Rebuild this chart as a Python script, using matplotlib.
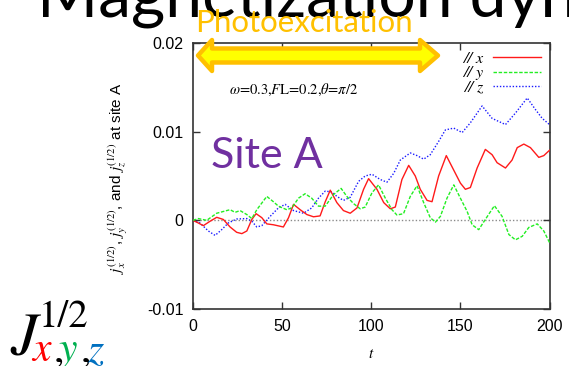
import matplotlib
matplotlib.use("Agg")
import matplotlib.pyplot as plt
from matplotlib.patches import Polygon
from matplotlib.ticker import FixedLocator, FixedFormatter

plt.rcParams["mathtext.fontset"] = "stix"

# ---- data: spin current components at site A ----
t_x = [0, 3.0, 5.8, 9.6, 13.3, 17.0, 20.8, 24.5, 27.4, 30.2, 33.0, 35.4, 38.6, 41.4, 45.1,
       50.7, 53.6, 56.4, 60.1, 63.9, 67.6, 71.3, 74.2, 77.0, 80.7, 84.4, 88.2, 92.0, 95.7,
       98.5, 103.2, 107.0, 110.7, 113.5, 117.2, 121.0, 124.7, 127.5, 131.3, 134.1, 137.8,
       142.1, 147.2, 150.0, 152.8, 155.6, 159.4, 164.0, 167.8, 170.6, 175.3, 179.0, 181.9,
       185.6, 189.3, 194.0, 196.8, 200.0]
j_x = [0, -0.0003, -0.0006, -0.0001, 0.00034, 0.0001, -0.00075, -0.00135, -0.0015, -0.0012,
       0.0001, 0.00075, 0.0003, -0.0004, -0.0005, -0.00075, 0.0003, 0.0018, 0.0012, 0.00065,
       0.0004, 0.0005, 0.0021, 0.0034, 0.002, 0.0011, 0.0008, 0.0014, 0.0035, 0.0047, 0.0035,
       0.002, 0.0013, 0.0015, 0.0046, 0.0062, 0.005, 0.0035, 0.00225, 0.0021, 0.005, 0.0073,
       0.0053, 0.0042, 0.0035, 0.0037, 0.0059, 0.008, 0.0074, 0.0065, 0.0059, 0.0068, 0.0082,
       0.0086, 0.0082, 0.0071, 0.0073, 0.0079]

t_y = [0, 3.0, 7.7, 13.3, 20.8, 23.6, 26.4, 30.2, 33.0, 35.8, 41.4, 45.1, 47.9, 52.6, 55.4,
       59.2, 62.9, 66.6, 70.4, 74.2, 78.8, 83.1, 86.3, 90.0, 93.8, 96.6, 100.4, 104.1, 107.9,
       111.6, 114.4, 118.1, 121.9, 125.7, 129.4, 133.1, 136.0, 138.8, 142.5, 146.3, 150.0,
       153.8, 156.6, 160.3, 164.0, 169.1, 173.4, 177.2, 180.9, 184.7, 188.4, 193.1, 196.8, 200.0]
j_y = [0, 0.0002, 0, 0.0008, 0.0012, 0.0009, 0.0011, 0.00065, 0.0002, 0.0012, 0.0027, 0.0021,
       0.0016, 0.0012, 0.0014, 0.0025, 0.003, 0.0025, 0.0016, 0.0016, 0.0029, 0.0036, 0.0027,
       0.0019, 0.0013, 0.0015, 0.0031, 0.004, 0.0025, 0.0012, 0.0006, 0.00075, 0.0027, 0.0039,
       0.002, 0.0003, -0.0002, 0.00045, 0.0025, 0.004, 0.0025, 0.001, -0.0005, -0.00105, 0.0001,
       0.00165, 0.00045, -0.0016, -0.0022, -0.0018, -0.0008, -0.0004, -0.0012, -0.0025]

t_z = [0, 3.9, 8.6, 12.4, 16.1, 19.8, 24.5, 30.2, 33.0, 35.8, 38.6, 43.3, 47.9, 51.7, 56.4,
       62.0, 66.6, 70.4, 74.2, 77.9, 80.7, 84.4, 88.2, 92.9, 96.6, 100.4, 105.1, 108.8, 112.6,
       116.3, 121.9, 125.7, 129.4, 133.1, 137.8, 141.6, 146.3, 151.0, 155.6, 162.2, 167.8,
       175.3, 180.9, 187.5, 192.1, 195.9, 200.0]
j_z = [0, -0.0003, -0.0012, -0.0017, -0.00105, -0.0003, 0.00015, 0.0002, -0.0001, -0.00075,
       -0.0006, 0.00045, 0.0014, 0.0018, 0.0011, 0.0008, 0.0014, 0.0025, 0.0033, 0.0032, 0.0027,
       0.00225, 0.0026, 0.0044, 0.005, 0.0052, 0.0046, 0.0043, 0.0053, 0.0068, 0.0076, 0.0073,
       0.0069, 0.0074, 0.0089, 0.0102, 0.0104, 0.0099, 0.011, 0.0129, 0.0115, 0.0108, 0.0121,
       0.0138, 0.0125, 0.0115, 0.0108]

x_ticks = [0, 50, 100, 150, 200]
y_ticks = [-0.01, 0, 0.01, 0.02]
y_tick_labels = ["-0.01", "0", "0.01", "0.02"]
legend_labels = ["// x", "// y", "// z"]

W, H = 569, 366
fig = plt.figure(figsize=(W / 100, H / 100), dpi=100)


def px(x, y):
    """Pixel position (origin top-left) to figure fraction."""
    return x / W, 1 - y / H


ax = fig.add_axes([193 / W, 57 / H, 356.5 / W, 266 / H])
ax.set_xlim(0, 200)
ax.set_ylim(-0.01, 0.02)

ax.axhline(0, color="#8a8a8a", lw=1.0, ls=(0, (1, 1.5)), zorder=1)
lx, = ax.plot(t_x, j_x, color="#ff1a1a", lw=1.0, zorder=3)
ly, = ax.plot(t_y, j_y, color="#22ee22", lw=1.0, ls=(0, (2.5, 1.2)), zorder=3)
lz, = ax.plot(t_z, j_z, color="#1a1aff", lw=1.0, ls=(0, (1, 1.3)), zorder=2)

ax.xaxis.set_major_locator(FixedLocator(x_ticks))
ax.yaxis.set_major_locator(FixedLocator(y_ticks))
ax.yaxis.set_major_formatter(FixedFormatter(y_tick_labels))
ax.tick_params(direction="in", top=True, right=True, length=5, width=1,
               color="#333333", labelsize=11.5, pad=7)
for lab in ax.get_xticklabels() + ax.get_yticklabels():
    lab.set_fontfamily("Liberation Sans")
for s in ax.spines.values():
    s.set_color("#333333")
    s.set_linewidth(1.2)

leg = ax.legend([lx, ly, lz], legend_labels, loc="upper right", frameon=False,
                markerfirst=False, handlelength=3.0, handletextpad=0.6,
                labelspacing=0.0, borderaxespad=0.15,
                prop={"family": "STIXGeneral", "style": "italic", "size": 11.5})

ax.set_xlabel("$t$", fontsize=11)
ax.xaxis.set_label_coords(0.5, -0.14)
fig.text(*px(118, 178), r"$j_x^{(1/2)}$, $j_y^{(1/2)}$, and $j_z^{(1/2)}$ at site A",
         rotation=90, ha="center", va="center", fontsize=11, family="Liberation Sans")

fig.text(*px(229, 94), r"$\omega$=0.3,$F$L=0.2,$\theta$=$\pi$/2",
         family="STIXGeneral", fontsize=10.5, ha="left", va="baseline")

# slide-style overlays
fig.text(*px(37, 16.5), "Magnetization dynamics", family="Lato", fontsize=47.5,
         color="black", ha="left", va="baseline")
fig.text(*px(195, 31.5), "Photoexcitation", family="Lato", fontsize=22.5,
         color="#FFC000", ha="left", va="baseline")
fig.text(*px(211, 168), "Site A", family="Lato", fontsize=31,
         color="#7030A0", ha="left", va="baseline")

arrow_px = [(198, 55.5), (212, 40), (212, 48.5), (420, 48.5), (420, 40), (438, 55.5),
            (420, 71), (420, 62.5), (212, 62.5), (212, 71)]
arrow = Polygon([px(*p) for p in arrow_px], closed=True, transform=fig.transFigure,
                facecolor="#FFFF00", edgecolor="#FFC000", lw=3.2, joinstyle="round",
                zorder=10)
fig.patches.append(arrow)

# J^{1/2}_{x,y,z} symbol
fig.text(*px(10, 355), "J", family="STIXGeneral", style="italic", fontsize=44,
         ha="left", va="baseline")
fig.text(*px(39, 327), "1/2", family="STIXGeneral", fontsize=28,
         ha="left", va="baseline")
fig.text(*px(32, 361), "x", family="STIXGeneral", style="italic", fontsize=30,
         color="#FF0000", ha="left", va="baseline")
fig.text(*px(54, 361), ",", family="STIXGeneral", fontsize=30, ha="left", va="baseline")
fig.text(*px(59, 361), "y", family="STIXGeneral", style="italic", fontsize=30,
         color="#00B050", ha="left", va="baseline")
fig.text(*px(81, 361), ",", family="STIXGeneral", fontsize=30, ha="left", va="baseline")
fig.text(*px(87, 361), "z", family="STIXGeneral", style="italic", fontsize=30,
         color="#0070C0", ha="left", va="baseline")

fig.savefig("out.png", dpi=100, facecolor="white")
